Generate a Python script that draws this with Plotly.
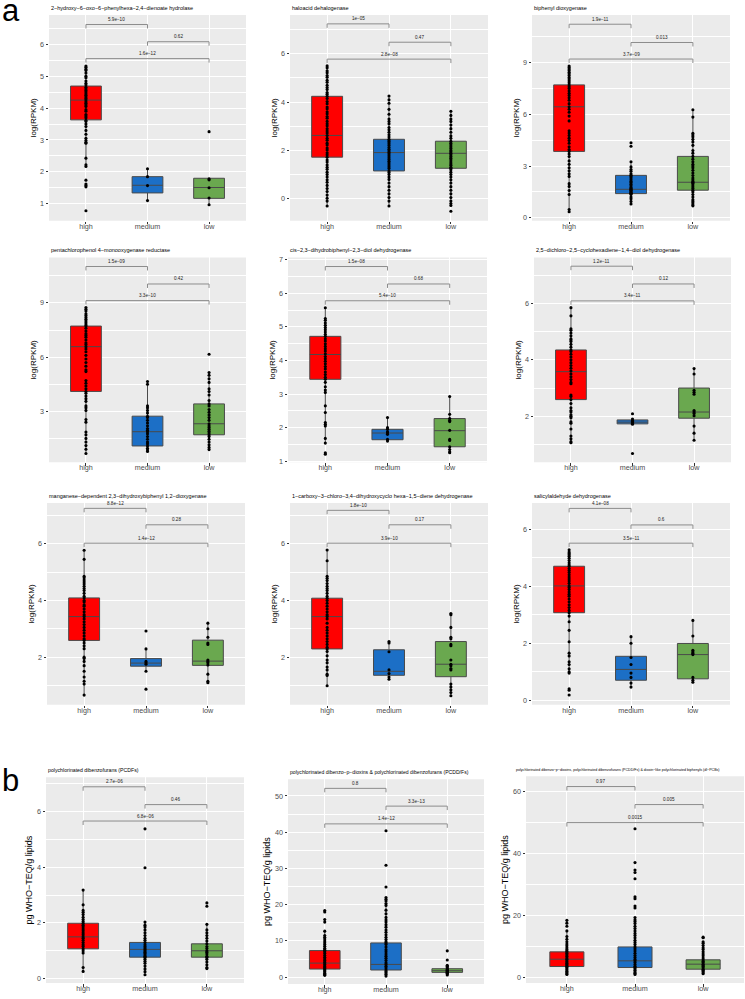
import plotly.graph_objects as go

W, H = 745, 999
CATEGORIES = ["high", "medium", "low"]
COLORS = ["#FF0000", "#1C6FC6", "#6AA84F"]

# ---------------- data ----------------
# Panel 1: 2-hydroxy-6-oxo-6-phenylhexa-2,4-dienoate hydrolase
P1_HIGH = [5.32, 5.28, 5.22, 5.18, 5.1, 5.0, 4.95, 4.85, 4.78, 4.72, 4.65, 4.6, 4.55, 4.5, 4.45, 4.4,
           4.35, 4.3, 4.25, 4.2, 4.15, 4.1, 4.05, 3.95, 3.9, 3.8, 3.75, 3.7, 3.62, 3.58, 3.5, 3.42,
           3.3, 3.18, 3.05, 2.98, 2.93, 2.9, 2.43, 2.22, 2.17, 1.74, 1.62, 1.57, 1.53, 0.78]
P1_MEDIUM = [2.1, 1.85, 1.57, 1.1]
P1_LOW = [3.26, 1.78, 1.75, 1.5, 1.18, 0.97]
P1_Q1 = [3.63, 1.34, 1.17]
P1_MED = [4.25, 1.58, 1.51]
P1_Q3 = [4.69, 1.85, 1.80]
P1_P = ["5.9e\u221210", "0.62", "1.6e\u221212"]

# Panel 2: haloacid dehalogenase
P2_HIGH = [5.5, 5.42, 5.3, 5.22, 5.1, 5.03, 4.9, 4.82, 4.7, 4.6, 4.52, 4.4, 4.33, 4.24, 4.15, 4.02,
           3.93, 3.8, 3.72, 3.6, 3.52, 3.4, 3.33, 3.2, 3.1, 3.02, 2.9, 2.8, 2.72, 2.62, 2.5, 2.42,
           2.3, 2.22, 2.1, 2.02, 1.9, 1.82, 1.72, 1.6, 1.52, 1.4, 1.3, 1.22, 1.1, 1.0, 0.9, 0.78,
           0.68, 0.55, 0.42, 0.3, 0.15, 0.02, -0.1, -0.3]
P2_MEDIUM = [4.25, 4.1, 3.95, 3.7, 3.5, 3.3, 3.2, 3.1, 2.95, 2.85, 2.75, 2.65, 2.55, 2.46, 2.4, 2.35,
             2.28, 2.2, 2.12, 2.05, 1.98, 1.91, 1.85, 1.78, 1.7, 1.62, 1.55, 1.48, 1.4, 1.32, 1.25,
             1.15, 1.08, 1.0, 0.9, 0.8, 0.65, 0.5, 0.35, 0.2, 0.05, -0.1, -0.3]
P2_LOW = [3.62, 3.45, 3.3, 3.2, 3.05, 2.9, 2.75, 2.6, 2.5, 2.38, 2.3, 2.22, 2.15, 2.08, 2.0, 1.94,
          1.88, 1.82, 1.75, 1.68, 1.6, 1.52, 1.45, 1.38, 1.3, 1.26, 1.2, 1.1, 1.0, 0.9, 0.78, 0.65,
          0.5, 0.35, 0.2, 0.05, -0.1, -0.2, -0.28, -0.52]
P2_Q1 = [1.72, 1.15, 1.26]
P2_MED = [2.62, 1.91, 1.88]
P2_Q3 = [4.24, 2.46, 2.38]
P2_P = ["1e\u221205", "0.47", "2.8e\u221208"]

# Panel 3: biphenyl dioxygenase
P3_HIGH = [8.81, 8.72, 8.63, 8.55, 8.44, 8.35, 8.25, 8.14, 8.05, 7.95, 7.84, 7.71, 7.6, 7.5, 7.36,
           7.22, 7.1, 6.96, 6.82, 6.62, 6.44, 6.3, 6.12, 5.9, 5.62, 5.05, 4.92, 4.78, 4.62, 4.48,
           4.32, 4.12, 3.96, 3.85, 3.7, 3.55, 3.3, 3.1, 2.9, 2.72, 2.55, 2.4, 1.98, 1.82, 1.58,
           1.35, 0.48, 0.35]
P3_MEDIUM = [4.35, 4.15, 3.25, 2.95, 2.8, 2.7, 2.55, 2.46, 2.4, 2.3, 2.2, 2.1, 2.05, 1.95, 1.85,
             1.75, 1.7, 1.65, 1.6, 1.55, 1.5, 1.45, 1.42, 1.4, 1.35, 1.2, 1.1, 0.95, 0.8]
P3_LOW = [6.27, 5.84, 4.9, 4.8, 4.7, 4.55, 4.4, 4.2, 3.9, 3.75, 3.56, 3.4, 3.25, 3.1, 3.0, 2.9,
          2.75, 2.6, 2.45, 2.3, 2.2, 2.1, 2.06, 2.0, 1.9, 1.8, 1.7, 1.6, 1.5, 1.35, 1.2, 1.05,
          0.95, 0.85, 0.75, 0.69]
P3_Q1 = [3.85, 1.40, 1.60]
P3_MED = [6.44, 1.65, 2.06]
P3_Q3 = [7.71, 2.46, 3.56]
P3_P = ["1.9e\u221211", "0.013", "3.7e\u221209"]

# Panel 4: pentachlorophenol 4-monooxygenase reductase
P4_HIGH = [8.75, 8.65, 8.55, 8.4, 8.3, 8.2, 8.1, 8.0, 7.9, 7.8, 7.72, 7.6, 7.45, 7.3, 7.2, 7.1,
           6.95, 6.8, 6.7, 6.58, 6.45, 6.3, 6.1, 5.9, 5.7, 5.5, 5.3, 5.2, 4.7, 4.55, 4.4, 4.25,
           4.1, 4.0, 3.85, 3.7, 3.55, 3.3, 3.2, 3.05, 2.55, 2.4, 1.85, 1.7, 1.5, 1.3, 1.1, 0.9, 0.66]
P4_MEDIUM = [4.65, 4.5, 3.3, 3.2, 3.05, 2.9, 2.73, 2.65, 2.5, 2.35, 2.2, 2.05, 1.95, 1.87, 1.75,
             1.6, 1.45, 1.3, 1.2, 1.08, 0.95, 0.85, 0.77]
P4_LOW = [6.16, 5.15, 5.0, 4.8, 4.6, 4.25, 4.1, 3.9, 3.6, 3.41, 3.3, 3.1, 2.95, 2.8, 2.65, 2.5,
          2.31, 2.2, 2.1, 2.0, 1.9, 1.8, 1.7, 1.6, 1.45, 1.3, 1.15, 1.0, 0.88]
P4_Q1 = [4.10, 1.08, 1.70]
P4_MED = [6.58, 1.87, 2.31]
P4_Q3 = [7.72, 2.73, 3.41]
P4_P = ["1.5e\u221209", "0.42", "3.3e\u221210"]

# Panel 5: cis-2,3-dihydrobiphenyl-2,3-diol dehydrogenase
P5_HIGH = [5.57, 5.25, 5.2, 5.12, 5.05, 4.98, 4.92, 4.85, 4.78, 4.72, 4.65, 4.58, 4.5, 4.42, 4.35,
           4.28, 4.2, 4.12, 4.05, 3.98, 3.9, 3.82, 3.75, 3.66, 3.58, 3.5, 3.44, 3.35, 3.22, 3.12,
           3.05, 2.65, 2.45, 2.15, 2.1, 2.05, 1.68, 1.54, 1.25, 1.21]
P5_MEDIUM = [2.3, 2.0, 1.95, 1.88, 1.85, 1.8, 1.65, 1.6]
P5_LOW = [2.93, 2.4, 2.27, 2.22, 2.18, 1.92, 1.65, 1.62, 1.43, 1.35, 1.28, 1.25]
P5_Q1 = [3.44, 1.64, 1.43]
P5_MED = [4.18, 1.84, 1.91]
P5_Q3 = [4.72, 1.95, 2.27]
P5_P = ["1.5e\u221208", "0.68", "5.4e\u221210"]

# Panel 6: 2,5-dichloro-2,5-cyclohexadiene-1,4-diol dehydrogenase
P6_HIGH = [5.85, 5.56, 5.1, 5.05, 4.95, 4.85, 4.75, 4.7, 4.65, 4.55, 4.45, 4.35, 4.3, 4.2, 4.1,
           4.0, 3.9, 3.8, 3.7, 3.6, 3.5, 3.4, 3.3, 3.2, 3.15, 2.75, 2.7, 2.59, 2.45, 2.3, 2.2,
           2.15, 2.05, 2.0, 1.95, 1.8, 1.75, 1.55, 1.3, 1.2, 1.1, 1.06]
P6_MEDIUM = [2.09, 1.9, 1.85, 1.82, 1.78, 1.75, 1.72, 0.68]
P6_LOW = [3.69, 3.5, 2.92, 2.85, 2.78, 2.2, 2.15, 2.1, 2.02, 1.65, 1.4, 1.15]
P6_Q1 = [2.59, 1.73, 1.93]
P6_MED = [3.58, 1.79, 2.15]
P6_Q3 = [4.35, 1.87, 3.00]
P6_P = ["1.2e\u221211", "0.12", "3.4e\u221211"]

# Panel 7: manganese-dependent 2,3-dihydroxybiphenyl 1,2-dioxygenase
P7_HIGH = [5.77, 5.45, 4.85, 4.8, 4.72, 4.65, 4.58, 4.5, 4.42, 4.35, 4.25, 4.15, 4.09, 4.0, 3.95,
           3.85, 3.8, 3.7, 3.6, 3.5, 3.43, 3.35, 3.25, 3.15, 3.05, 2.95, 2.85, 2.75, 2.65, 2.59,
           2.5, 2.4, 2.3, 2.0, 1.95, 1.85, 1.7, 1.5, 1.3, 1.15, 1.05, 0.66]
P7_MEDIUM = [2.92, 2.29, 1.85, 1.8, 1.75, 1.5, 0.87]
P7_LOW = [3.2, 3.0, 2.7, 2.5, 2.45, 1.9, 1.85, 1.8, 1.72, 1.4, 1.15, 1.1]
P7_Q1 = [2.59, 1.68, 1.71]
P7_MED = [3.43, 1.79, 1.86]
P7_Q3 = [4.09, 1.95, 2.60]
P7_P = ["8.8e\u221212", "0.28", "1.4e\u221212"]

# Panel 8: 1-carboxy-3-chloro-3,4-dihydroxycyclo hexa-1,5-diene dehydrogenase
P8_HIGH = [5.78, 5.4, 4.85, 4.78, 4.7, 4.6, 4.5, 4.42, 4.35, 4.25, 4.15, 4.08, 4.0, 3.9, 3.8, 3.7,
           3.6, 3.5, 3.43, 3.35, 3.2, 3.05, 2.95, 2.85, 2.75, 2.65, 2.55, 2.45, 2.35, 2.29, 2.2,
           2.05, 1.9, 1.8, 1.65, 1.55, 1.4, 1.35, 0.99]
P8_MEDIUM = [2.55, 2.5, 2.19, 1.55, 1.42, 1.3, 1.22]
P8_LOW = [3.54, 3.5, 3.05, 2.7, 2.65, 2.45, 2.4, 1.9, 1.75, 1.7, 1.6, 1.55, 1.05, 0.95, 0.85,
          0.75, 0.64]
P8_Q1 = [2.29, 1.36, 1.31]
P8_MED = [3.43, 1.50, 1.75]
P8_Q3 = [4.08, 2.26, 2.55]
P8_P = ["1.8e\u221210", "0.17", "3.9e\u221210"]

# Panel 9: salicylaldehyde dehydrogenase
P9_HIGH = [5.28, 5.2, 5.15, 5.1, 5.05, 4.98, 4.9, 4.82, 4.75, 4.7, 4.62, 4.55, 4.48, 4.4, 4.32,
           4.25, 4.18, 4.1, 4.01, 3.95, 3.88, 3.8, 3.72, 3.65, 3.55, 3.45, 3.35, 3.25, 3.15, 3.07,
           2.95, 2.75, 2.45, 2.05, 1.65, 1.55, 1.35, 1.25, 1.1, 1.0, 0.95, 0.4, 0.35, 0.18]
P9_MEDIUM = [2.23, 2.0, 1.5, 1.25, 0.95, 0.8, 0.6, 0.46]
P9_LOW = [2.8, 2.25, 1.75, 1.7, 1.65, 1.6, 0.8, 0.7, 0.63]
P9_Q1 = [3.07, 0.70, 0.75]
P9_MED = [4.01, 1.08, 1.60]
P9_Q3 = [4.70, 1.54, 1.99]
P9_P = ["4.1e\u221208", "0.6", "3.5e\u221211"]

# Panel 10: PCDFs
P10_HIGH = [3.18, 2.65, 2.45, 2.38, 2.3, 2.2, 2.12, 2.05, 1.99, 1.92, 1.85, 1.78, 1.72, 1.65, 1.58,
            1.5, 1.45, 1.38, 1.3, 1.22, 1.15, 1.07, 1.0, 0.92, 0.4, 0.26]
P10_MEDIUM = [5.38, 3.98, 2.03, 1.92, 1.85, 1.75, 1.65, 1.55, 1.45, 1.38, 1.3, 1.22, 1.15, 1.1,
              1.05, 1.0, 0.95, 0.9, 0.85, 0.8, 0.77, 0.7, 0.62, 0.55, 0.45, 0.35, 0.25, 0.14]
P10_LOW = [2.72, 2.6, 1.95, 1.75, 1.65, 1.55, 1.45, 1.35, 1.25, 1.15, 1.08, 1.0, 0.95, 0.88, 0.8,
           0.77, 0.7, 0.6, 0.5, 0.4, 0.36]
P10_Q1 = [1.07, 0.77, 0.77]
P10_MED = [1.50, 1.05, 1.00]
P10_Q3 = [1.99, 1.30, 1.25]
P10_P = ["2.7e\u221206", "0.46", "6.8e\u221206"]

# Panel 11: PCDD/Fs
P11_HIGH = [18.4, 18.0, 15.9, 15.2, 12.7, 11.5, 11.0, 10.5, 10.0, 9.5, 9.0, 8.5, 8.0, 7.6, 7.34,
            7.0, 6.5, 6.0, 5.5, 5.0, 4.6, 4.2, 3.88, 3.5, 3.1, 2.8, 2.5, 2.24, 2.0, 1.7, 1.4,
            1.1, 0.8, 0.5]
P11_MEDIUM = [40.4, 30.9, 24.9, 22.0, 21.5, 21.0, 20.3, 19.8, 18.5, 17.5, 16.5, 15.8, 15.2, 14.5,
              13.8, 13.0, 12.4, 11.7, 11.0, 10.4, 9.8, 9.45, 9.0, 8.3, 7.6, 7.0, 6.4, 5.8, 5.2,
              4.6, 4.0, 3.52, 3.0, 2.5, 1.98, 1.6, 1.2, 0.8, 0.3]
P11_LOW = [7.26, 4.72, 3.3, 3.0, 2.7, 2.34, 2.1, 1.9, 1.79, 1.6, 1.45, 1.33, 1.1, 0.9, 0.62]
P11_Q1 = [2.24, 1.98, 1.33]
P11_MED = [3.88, 3.52, 1.79]
P11_Q3 = [7.34, 9.45, 2.34]
P11_P = ["0.8", "3.3e\u221213", "1.4e\u221212"]

# Panel 12: PCDD/Fs & dl-PCBs
P12_HIGH = [18.4, 17.5, 16.5, 15.0, 13.2, 12.3, 11.5, 10.8, 10.2, 9.6, 9.0, 8.5, 8.25, 7.8, 7.3,
            6.8, 6.3, 5.88, 5.4, 5.0, 4.6, 4.2, 3.8, 3.53, 3.2, 2.8, 2.4, 2.0, 1.6, 1.2, 1.0]
P12_MEDIUM = [47.9, 37.0, 34.6, 33.8, 31.8, 26.0, 25.4, 23.0, 22.4, 19.3, 18.6, 18.0, 17.4, 16.5,
              15.8, 15.0, 14.2, 13.5, 12.8, 12.0, 11.3, 10.6, 9.85, 9.2, 8.5, 7.8, 7.1, 6.4, 5.8,
              5.36, 4.8, 4.2, 3.6, 3.21, 2.8, 2.3, 1.8, 1.4, 1.0]
P12_LOW = [13.0, 12.8, 11.5, 11.0, 10.3, 9.6, 9.0, 8.3, 7.6, 7.0, 6.3, 5.69, 5.2, 4.8, 4.29, 3.9,
           3.5, 3.1, 2.67, 2.3, 1.9, 1.5, 1.2]
P12_Q1 = [3.53, 3.21, 2.67]
P12_MED = [5.88, 5.36, 4.29]
P12_Q3 = [8.25, 9.85, 5.69]
P12_P = ["0.97", "0.005", "0.0015"]

TITLES = [
    "2\u2212hydroxy\u22126\u2212oxo\u22126\u2212phenylhexa\u22122,4\u2212dienoate hydrolase",
    "haloacid dehalogenase",
    "biphenyl dioxygenase",
    "pentachlorophenol 4\u2212monooxygenase reductase",
    "cis\u22122,3\u2212dihydrobiphenyl\u22122,3\u2212diol dehydrogenase",
    "2,5\u2212dichloro\u22122,5\u2212cyclohexadiene\u22121,4\u2212diol dehydrogenase",
    "manganese\u2212dependent 2,3\u2212dihydroxybiphenyl 1,2\u2212dioxygenase",
    "1\u2212carboxy\u22123\u2212chloro\u22123,4\u2212dihydroxycyclo hexa\u22121,5\u2212diene dehydrogenase",
    "salicylaldehyde dehydrogenase",
    "polychlorinated dibenzofurans (PCDFs)",
    "polychlorinated dibenzo\u2212p\u2212dioxins & polychlorinated dibenzofurans (PCDD/Fs)",
    "polychlorinated dibenzo\u2212p\u2212dioxins, polychlorinated dibenzofurans (PCDD/Fs) & "
    "dioxin\u2212like polychlorinated biphenyls (dl\u2212PCBs)",
]
YLABEL_A = "log(RPKM)"
YLABEL_B = "pg WHO\u2212TEQ/g lipids"

PANEL_DATA = [
    ((P1_HIGH, P1_MEDIUM, P1_LOW), P1_Q1, P1_MED, P1_Q3, P1_P),
    ((P2_HIGH, P2_MEDIUM, P2_LOW), P2_Q1, P2_MED, P2_Q3, P2_P),
    ((P3_HIGH, P3_MEDIUM, P3_LOW), P3_Q1, P3_MED, P3_Q3, P3_P),
    ((P4_HIGH, P4_MEDIUM, P4_LOW), P4_Q1, P4_MED, P4_Q3, P4_P),
    ((P5_HIGH, P5_MEDIUM, P5_LOW), P5_Q1, P5_MED, P5_Q3, P5_P),
    ((P6_HIGH, P6_MEDIUM, P6_LOW), P6_Q1, P6_MED, P6_Q3, P6_P),
    ((P7_HIGH, P7_MEDIUM, P7_LOW), P7_Q1, P7_MED, P7_Q3, P7_P),
    ((P8_HIGH, P8_MEDIUM, P8_LOW), P8_Q1, P8_MED, P8_Q3, P8_P),
    ((P9_HIGH, P9_MEDIUM, P9_LOW), P9_Q1, P9_MED, P9_Q3, P9_P),
    ((P10_HIGH, P10_MEDIUM, P10_LOW), P10_Q1, P10_MED, P10_Q3, P10_P),
    ((P11_HIGH, P11_MEDIUM, P11_LOW), P11_Q1, P11_MED, P11_Q3, P11_P),
    ((P12_HIGH, P12_MEDIUM, P12_LOW), P12_Q1, P12_MED, P12_Q3, P12_P),
]

# ---------------- layout (pixel boxes, axis ranges, bracket heights) ----------------
# (left, right, top, bottom) px, y range, dtick, bracket y [high-med, med-low, high-low],
# title size, title x offset (px, relative to panel left)
LAYOUT = [
    ((49, 246, 13, 220), (0.47, 6.92), 1, (6.62, 6.08, 5.55), 5.5, 0),
    ((290, 488, 13, 220), (-0.91, 7.61), 2, (7.24, 6.48, 5.78), 5.5, 0),
    ((532, 730, 13, 220), (-0.17, 11.77), 3, (11.23, 10.17, 9.21), 5.5, 0),
    ((49, 246, 257, 463), (0.18, 11.52), 3, (11.02, 10.05, 9.13), 5.5, 0),
    ((288, 487, 257, 463), (0.97, 7.07), 1, (6.80, 6.28, 5.78), 5.5, 0),
    ((534, 731, 257, 463), (0.37, 7.63), 2, (7.32, 6.69, 6.09), 5.5, 0),
    ((47, 245, 504, 707), (0.32, 7.44), 2, (7.25, 6.67, 6.02), 5.5, 0),
    ((290, 488, 504, 707), (0.32, 7.44), 2, (7.18, 6.67, 6.02), 5.5, 0),
    ((532, 730, 504, 707), (-0.16, 6.92), 2, (6.73, 6.15, 5.51), 5.5, 0),
    ((46, 244, 780, 987), (-0.16, 7.23), 2, (6.89, 6.25, 5.66), 5.2, 0),
    ((288, 484, 782, 988), (-1.9, 54.6), 10, (52.1, 47.2, 42.3), 5.1, 0),
    ((526, 744, 779, 987), (-1.8, 64.8), 20, (61.5, 55.7, 49.9), 3.6, -12),
]

FONT = "Liberation Sans, Arial, sans-serif"
PANEL_BG = "#EBEBEB"
BOX_LINE = "#4A4A4A"
BRACKET = "#8C8C8C"
TICK_TXT = "#4D4D4D"


def whiskers(pts, q1, q3):
    iqr = q3 - q1
    inside = [p for p in pts if q1 - 1.5 * iqr <= p <= q3 + 1.5 * iqr]
    return min(min(inside), q1), max(max(inside), q3)


fig = go.Figure()
shapes = []
annotations = []

for n, (data, layout_cfg) in enumerate(zip(PANEL_DATA, LAYOUT), start=1):
    groups, q1s, meds, q3s, pvals = data
    (l, r, t, b), yr, dtick, br_y, tsize, tdx = layout_cfg
    xs = "" if n == 1 else str(n)
    xref, yref = "x" + xs, "y" + xs

    for k, (cat, pts) in enumerate(zip(CATEGORIES, groups)):
        pos = k + 1
        lo, hi = whiskers(pts, q1s[k], q3s[k])
        fig.add_trace(go.Box(
            x=[pos], q1=[q1s[k]], median=[meds[k]], q3=[q3s[k]],
            lowerfence=[lo], upperfence=[hi], width=0.5, whiskerwidth=0,
            fillcolor=COLORS[k], line=dict(color=BOX_LINE, width=1),
            boxpoints=False, showlegend=False, hoverinfo="skip",
            xaxis=xref, yaxis=yref, name=cat))
        fig.add_trace(go.Scatter(
            x=[pos] * len(pts), y=pts, mode="markers",
            marker=dict(color="black", size=3.1, line=dict(width=0)),
            showlegend=False, hoverinfo="skip", xaxis=xref, yaxis=yref))

    # significance brackets
    px_per_unit = (b - t) / (yr[1] - yr[0])
    tick = 4.0 / px_per_unit
    pairs = [(1, 2), (2, 3), (1, 3)]
    for (a_, b_), yb, lab in zip(pairs, br_y, pvals):
        shapes.append(dict(
            type="path", xref=xref, yref=yref,
            path=f"M {a_},{yb - tick} L {a_},{yb} L {b_},{yb} L {b_},{yb - tick}",
            line=dict(color=BRACKET, width=1)))
        annotations.append(dict(
            x=(a_ + b_) / 2, y=yb, xref=xref, yref=yref, text=lab, showarrow=False,
            yanchor="bottom", yshift=0.5, font=dict(size=4.6, color="#222222", family=FONT)))

    # panel title
    annotations.append(dict(
        x=0, y=1, xref=xref + " domain", yref=yref + " domain", text=TITLES[n - 1],
        showarrow=False, xanchor="left", yanchor="bottom", yshift=2, xshift=tdx,
        font=dict(size=tsize, color="black", family=FONT)))

    ylabel = YLABEL_A if n <= 9 else YLABEL_B
    ysize = 8 if n <= 9 else 9
    xkey = "xaxis" + xs
    ykey = "yaxis" + xs
    fig.update_layout(**{
        xkey: dict(
            domain=[l / W, r / W], anchor=yref, range=[0.4, 3.6],
            tickvals=[1, 2, 3], ticktext=CATEGORIES, ticks="outside", ticklen=2.5,
            tickcolor="#333333", tickwidth=1, showgrid=True, gridcolor="white",
            gridwidth=1, zeroline=False, showline=False, ticklabelstandoff=-4,
            tickfont=dict(size=7.2, color=TICK_TXT, family=FONT)),
        ykey: dict(
            domain=[1 - b / H, 1 - t / H], anchor=xref, range=list(yr),
            tick0=0, dtick=dtick, ticks="outside", ticklen=2.5, tickcolor="#333333",
            tickwidth=1, showgrid=True, gridcolor="white", gridwidth=1, zeroline=False,
            showline=False, tickfont=dict(size=7.2, color=TICK_TXT, family=FONT),
            minor=dict(dtick=dtick / 2, tick0=0, showgrid=True, gridcolor="white",
                       gridwidth=0.5, ticks=""),
            title=dict(text=ylabel, standoff=2,
                       font=dict(size=ysize, color="black", family=FONT))),
    })
    shapes.insert(0, dict(
        type="rect", xref=xref + " domain", yref=yref + " domain", x0=0, x1=1, y0=0, y1=1,
        fillcolor=PANEL_BG, line=dict(width=0), layer="below"))

annotations.append(dict(x=0, y=1 + 11 / H, xref="paper", yref="paper", text="a",
                        showarrow=False, xanchor="left", yanchor="top",
                        font=dict(size=31, color="black", family=FONT)))
annotations.append(dict(x=0, y=1 - 764 / H, xref="paper", yref="paper", text="b",
                        showarrow=False, xanchor="left", yanchor="top",
                        font=dict(size=31, color="black", family=FONT)))

fig.update_layout(
    width=W, height=H, margin=dict(l=0, r=0, t=0, b=0),
    paper_bgcolor="white", plot_bgcolor="rgba(0,0,0,0)",
    shapes=shapes, annotations=annotations, boxmode="overlay",
    font=dict(family=FONT),
)

fig.write_html(
    "out.html",
    config={"displayModeBar": False},
    post_script="document.body.style.margin='0';document.body.style.padding='0';"
                "document.documentElement.style.overflow='hidden';",
)
